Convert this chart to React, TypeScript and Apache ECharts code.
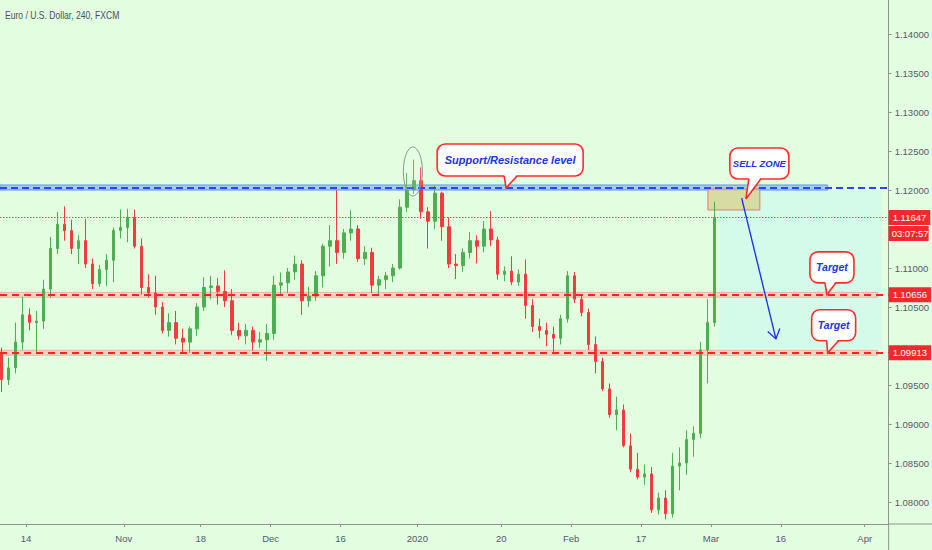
import { useEffect, useRef } from 'react';
import * as echarts from 'echarts';

// daily candles, EUR/USD (FXCM)
const dates = [
  '2019-10-08', '2019-10-09', '2019-10-10', '2019-10-11', '2019-10-14', '2019-10-15', '2019-10-16', '2019-10-17', '2019-10-18',
  '2019-10-21', '2019-10-22', '2019-10-23', '2019-10-24', '2019-10-25', '2019-10-28', '2019-10-29', '2019-10-30', '2019-10-31',
  '2019-11-01', '2019-11-04', '2019-11-05', '2019-11-06', '2019-11-07', '2019-11-08', '2019-11-11', '2019-11-12', '2019-11-13',
  '2019-11-14', '2019-11-15', '2019-11-18', '2019-11-19', '2019-11-20', '2019-11-21', '2019-11-22', '2019-11-25', '2019-11-26',
  '2019-11-27', '2019-11-28', '2019-11-29',
  '2019-12-02', '2019-12-03', '2019-12-04', '2019-12-05', '2019-12-06', '2019-12-09', '2019-12-10', '2019-12-11', '2019-12-12',
  '2019-12-13', '2019-12-16', '2019-12-17', '2019-12-18', '2019-12-19', '2019-12-20', '2019-12-23', '2019-12-24', '2019-12-26',
  '2019-12-27', '2019-12-30', '2019-12-31',
  '2020-01-02', '2020-01-03', '2020-01-06', '2020-01-07', '2020-01-08', '2020-01-09', '2020-01-10', '2020-01-13', '2020-01-14',
  '2020-01-15', '2020-01-16', '2020-01-17', '2020-01-20', '2020-01-21', '2020-01-22', '2020-01-23', '2020-01-24', '2020-01-27',
  '2020-01-28', '2020-01-29', '2020-01-30', '2020-01-31',
  '2020-02-03', '2020-02-04', '2020-02-05', '2020-02-06', '2020-02-07', '2020-02-10', '2020-02-11', '2020-02-12', '2020-02-13',
  '2020-02-14', '2020-02-17', '2020-02-18', '2020-02-19', '2020-02-20', '2020-02-21', '2020-02-24', '2020-02-25', '2020-02-26',
  '2020-02-27', '2020-02-28',
  '2020-03-02',
];

const openPx = [
  1.0990, 1.0957, 1.0972, 1.1005, 1.1040, 1.1030, 1.1032, 1.1073, 1.1125, 1.1156, 1.1148, 1.1125, 1.1135, 1.1105, 1.1080, 1.1098, 1.1110, 1.1148,
  1.1152, 1.1165, 1.1128, 1.1075, 1.1068, 1.1050, 1.1020, 1.1030, 1.1010, 1.1005, 1.1022, 1.1050, 1.1075, 1.1077, 1.1070, 1.1058, 1.1020, 1.1013, 1.1020, 1.1005, 1.1008,
  1.1016, 1.1078, 1.1081, 1.1095, 1.1105, 1.1058, 1.1064, 1.1090, 1.1128, 1.1135, 1.1120, 1.1145, 1.1150, 1.1112, 1.1120, 1.1078, 1.1085, 1.1090, 1.1100, 1.1178, 1.1200,
  1.1212, 1.1172, 1.1160, 1.1196, 1.1153, 1.1105, 1.1103, 1.1120, 1.1135, 1.1128, 1.1150, 1.1136, 1.1092, 1.1096, 1.1082, 1.1092, 1.1052, 1.1025, 1.1020, 1.1015, 1.1010, 1.1035,
  1.1090, 1.1060, 1.1043, 1.1002, 1.0980, 1.0945, 1.0912, 1.0918, 1.0872, 1.0842, 1.0832, 1.0836, 1.0790, 1.0805, 1.0785, 1.0846, 1.0850, 1.0880, 1.0888, 1.0995,
  1.1030,
];
const highPx = [
  1.0998, 1.0985, 1.1030, 1.1063, 1.1048, 1.1045, 1.1085, 1.1140, 1.1172, 1.1179, 1.1162, 1.1142, 1.1163, 1.1112, 1.1104, 1.1118, 1.1152, 1.1175,
  1.1176, 1.1175, 1.1138, 1.1092, 1.1090, 1.1056, 1.1042, 1.1045, 1.1022, 1.1025, 1.1055, 1.1088, 1.1090, 1.1087, 1.1097, 1.1073, 1.1030, 1.1028, 1.1025, 1.1018, 1.1028,
  1.1090, 1.1094, 1.1100, 1.1116, 1.1110, 1.1076, 1.1096, 1.1131, 1.1155, 1.1200, 1.1150, 1.1174, 1.1155, 1.1128, 1.1126, 1.1090, 1.1095, 1.1105, 1.1188, 1.1222, 1.1239,
  1.1229, 1.1178, 1.1205, 1.1198, 1.1165, 1.1118, 1.1125, 1.1146, 1.1142, 1.1160, 1.1173, 1.1140, 1.1102, 1.1115, 1.1098, 1.1111, 1.1060, 1.1035, 1.1030, 1.1025, 1.1040, 1.1096,
  1.1095, 1.1066, 1.1048, 1.1012, 1.0985, 1.0952, 1.0935, 1.0925, 1.0888, 1.0863, 1.0848, 1.0845, 1.0812, 1.0815, 1.0863, 1.0870, 1.0892, 1.0897, 1.1005, 1.1060,
  1.1185,
];
const lowPx = [
  1.0941, 1.0950, 1.0965, 1.0995, 1.1020, 1.0992, 1.1022, 1.1062, 1.1118, 1.1135, 1.1118, 1.1105, 1.1100, 1.1073, 1.1076, 1.1077, 1.1082, 1.1138,
  1.1133, 1.1125, 1.1066, 1.1062, 1.1040, 1.1016, 1.1012, 1.1002, 1.0990, 1.0991, 1.1013, 1.1045, 1.1060, 1.1053, 1.1050, 1.1014, 1.1008, 1.1002, 1.0994, 1.0998, 1.0981,
  1.1008, 1.1066, 1.1068, 1.1085, 1.1040, 1.1050, 1.1058, 1.1075, 1.1102, 1.1105, 1.1112, 1.1135, 1.1108, 1.1104, 1.1068, 1.1066, 1.1073, 1.1082, 1.1098, 1.1172, 1.1195,
  1.1163, 1.1125, 1.1150, 1.1135, 1.1100, 1.1086, 1.1095, 1.1112, 1.1106, 1.1120, 1.1128, 1.1085, 1.1083, 1.1078, 1.1077, 1.1035, 1.1018, 1.1010, 1.1000, 1.0992, 1.1002, 1.1030,
  1.1055, 1.1038, 1.0995, 1.0965, 1.0942, 1.0908, 1.0892, 1.0870, 1.0838, 1.0829, 1.0822, 1.0786, 1.0784, 1.0778, 1.0780, 1.0815, 1.0835, 1.0858, 1.0882, 1.0952,
  1.1025,
];
const closePx = [
  1.0957, 1.0972, 1.1005, 1.1040, 1.1030, 1.1032, 1.1073, 1.1125, 1.1156, 1.1148, 1.1125, 1.1135, 1.1105, 1.1080, 1.1098, 1.1110, 1.1148, 1.1152,
  1.1165, 1.1128, 1.1075, 1.1068, 1.1050, 1.1020, 1.1030, 1.1010, 1.1005, 1.1022, 1.1050, 1.1075, 1.1077, 1.1070, 1.1058, 1.1020, 1.1013, 1.1020, 1.1005, 1.1008, 1.1016,
  1.1078, 1.1081, 1.1095, 1.1105, 1.1058, 1.1064, 1.1090, 1.1128, 1.1135, 1.1120, 1.1145, 1.1150, 1.1112, 1.1120, 1.1078, 1.1085, 1.1090, 1.1100, 1.1178, 1.1200, 1.1212,
  1.1172, 1.1160, 1.1196, 1.1153, 1.1105, 1.1103, 1.1120, 1.1135, 1.1128, 1.1150, 1.1136, 1.1092, 1.1096, 1.1082, 1.1092, 1.1052, 1.1025, 1.1020, 1.1015, 1.1010, 1.1035, 1.1090,
  1.1060, 1.1043, 1.1002, 1.0980, 1.0945, 1.0912, 1.0918, 1.0872, 1.0842, 1.0832, 1.0836, 1.0790, 1.0805, 1.0785, 1.0846, 1.0850, 1.0880, 1.0888, 1.0995, 1.1030,
  1.1165,
];

// trading-day index of the time-scale labels (0 = Oct 14)
const tickDays = [0, 14, 25, 35, 45, 56, 68, 78, 88, 98, 108, 120];
const tickLabels = ['14', 'Nov', '18', 'Dec', '16', '2020', '20', 'Feb', '17', 'Mar', '16', 'Apr'];
const priceTicks = [1.08, 1.085, 1.09, 1.095, 1.1, 1.105, 1.11, 1.115, 1.12, 1.125, 1.13, 1.135, 1.14];
// labels hidden behind the price tags are left out
const priceLabels = [1.08, 1.085, 1.09, 1.095, 1.105, 1.11, 1.12, 1.125, 1.13, 1.135, 1.14];

// drawn levels and zones
const firstDay = -4;
const srLevel = 1.12026;
const srBand = [1.12, 1.12064];
const target1 = 1.10656;
const target2 = 1.09913;
const lastPrice = 1.11647;
const barTimer = '03:07:57';
const srEnd = 114.7;
const targetEnd = 121.86;
const sellZone = [97.57, 105.0, 1.11744, 1.12013];
const projZone = [99.14, 122.4, 1.0997, 1.12];
const arrowFrom = [102.4, 1.11897];
const arrowTo = [107.3, 1.10091];
const topMark = [55.36, 1.12237];

const callouts = [
  { text: 'Support/Resistance level', at: [68.7, srLevel], box: [-69, -44, 146, 32], base: [-2, 11], size: 11 },
  { text: 'SELL ZONE', at: [103.0, 1.11885], box: [-16, -51, 59, 31], base: [3, 15], size: 9.5 },
  { text: 'Target', at: [114.6, target1], box: [-17, -43, 44, 31], base: [-2, 9], size: 10.5 },
  { text: 'Target', at: [114.7, target2], box: [-16, -43, 44, 31], base: [-1, 11], size: 10.5 },
];

const xMin = -3.714;
const xMax = 123.43;
const yMin = 1.07718;
const yMax = 1.14436;

const sans = "'Liberation Sans', Arial, sans-serif";
const axisGrey = '#8e968e';
const textGrey = '#565a66';
const red = '#f5282d';

const priceTag = (text: string) => ({
  show: true,
  position: 'end',
  distance: 0,
  formatter: text,
  color: '#fff',
  backgroundColor: red,
  padding: [3, 4, 2, 4],
  fontSize: 9.5,
  fontFamily: sans,
});

const App = () => {
  const chartRef = useRef<HTMLDivElement>(null);

  useEffect(() => {
    if (!chartRef.current) return;
    const chart = echarts.init(chartRef.current, undefined, { renderer: 'svg' });

    const candles = openPx.map((o, i) => [firstDay + i + 0.5, o, closePx[i], lowPx[i], highPx[i]]);
    const tb = 0.00032;
    const targetBand = { color: 'rgba(240,200,180,0.75)', borderColor: 'rgba(240,120,120,0.45)', borderWidth: 1 };

    const option = {
      animation: false,
      backgroundColor: '#e2fde0',
      grid: { left: 0, right: 42, top: 0, bottom: 26 },
      xAxis: {
        type: 'value',
        min: xMin,
        max: xMax,
        axisLine: { onZero: false, lineStyle: { color: axisGrey } },
        axisTick: { show: true, customValues: tickDays, length: 3, lineStyle: { color: axisGrey } },
        axisLabel: {
          customValues: tickDays,
          formatter: (v: number) => tickLabels[tickDays.indexOf(v)] ?? '',
          color: textGrey,
          fontSize: 9.5,
          margin: 9,
          fontFamily: sans,
        },
        splitLine: { show: false },
      },
      yAxis: {
        type: 'value',
        position: 'right',
        min: yMin,
        max: yMax,
        axisLine: { show: true, onZero: false, lineStyle: { color: axisGrey } },
        axisTick: { show: true, customValues: priceTicks, length: 3, lineStyle: { color: axisGrey } },
        axisLabel: {
          customValues: priceLabels,
          formatter: (v: number) => v.toFixed(5),
          color: textGrey,
          fontSize: 9.5,
          margin: 6,
          fontFamily: sans,
        },
        splitLine: { show: false },
      },
      series: [
        {
          name: 'levels',
          type: 'line',
          data: [],
          markArea: {
            silent: true,
            data: [
              [
                { xAxis: projZone[0], yAxis: projZone[2], itemStyle: { color: '#d4fbea' } },
                { xAxis: projZone[1], yAxis: projZone[3] },
              ],
              [
                { xAxis: xMin, yAxis: srBand[0], itemStyle: { color: 'rgba(125,175,245,0.6)', borderColor: '#5d92f2', borderWidth: 1 } },
                { xAxis: srEnd, yAxis: srBand[1] },
              ],
              [
                { xAxis: xMin, yAxis: target1 - tb, itemStyle: targetBand },
                { xAxis: targetEnd, yAxis: target1 + tb },
              ],
              [
                { xAxis: xMin, yAxis: target2 - tb, itemStyle: targetBand },
                { xAxis: targetEnd, yAxis: target2 + tb },
              ],
            ],
          },
          markLine: {
            silent: true,
            precision: 5,
            symbol: ['none', 'none'],
            data: [
              { yAxis: srLevel, lineStyle: { color: '#2845ff', width: 2, type: [7, 4] }, label: { show: false } },
              { yAxis: target1, lineStyle: { color: '#ff2222', width: 2, type: [7, 5] }, label: priceTag('1.10656') },
              { yAxis: target2, lineStyle: { color: '#ff2222', width: 2, type: [7, 5] }, label: priceTag('1.09913') },
              { yAxis: lastPrice, lineStyle: { color: '#f04848', width: 1, type: [1.5, 1.5] }, label: priceTag('1.11647') },
            ],
          },
        },
        {
          name: 'EURUSD',
          type: 'candlestick',
          data: candles,
          barWidth: 3,
          itemStyle: {
            color: '#4caf50',
            color0: '#f23c3c',
            borderColor: '#4caf50',
            borderColor0: '#f23c3c',
            borderWidth: 1,
          },
        },
        {
          name: 'sell',
          type: 'line',
          data: [],
          markArea: {
            silent: true,
            data: [
              [
                { xAxis: sellZone[0], yAxis: sellZone[2], itemStyle: { color: 'rgba(214,214,150,0.85)', borderColor: '#e37c6c', borderWidth: 1 } },
                { xAxis: sellZone[1], yAxis: sellZone[3] },
              ],
            ],
          },
        },
      ],
    };

    chart.setOption(option);

    const px = (p: number[]) => chart.convertToPixel({ gridIndex: 0 }, p) as number[];
    const elements: any[] = [];

    // chart title, squeezed like the screenshot's narrow font
    elements.push({
      type: 'text',
      z: 100,
      x: 5,
      y: 15,
      scaleX: 0.78,
      style: { text: 'Euro / U.S. Dollar, 240, FXCM', fill: '#4b4f5c', fontSize: 11, fontFamily: sans, verticalAlign: 'middle' },
    });

    // top ellipse
    const [ex, ey] = px(topMark);
    elements.push({
      type: 'ellipse',
      z: 100,
      shape: { cx: ex, cy: ey, rx: 9.5, ry: 24.5 },
      style: { fill: 'rgba(255,255,255,0.12)', stroke: '#8d948d', lineWidth: 1 },
    });

    // arrow
    const [ax1, ay1] = px(arrowFrom);
    const [ax2, ay2] = px(arrowTo);
    const ang = Math.atan2(ay2 - ay1, ax2 - ax1);
    const arm = (d: number) => [ax2 - 11 * Math.cos(ang + d), ay2 - 11 * Math.sin(ang + d)];
    elements.push(
      { type: 'line', z: 100, shape: { x1: ax1, y1: ay1, x2: ax2, y2: ay2 }, style: { stroke: '#1f35e8', lineWidth: 1.4 } },
      { type: 'polyline', z: 100, shape: { points: [arm(0.6), [ax2, ay2], arm(-0.6)] }, style: { stroke: '#1f35e8', lineWidth: 1.4, fill: 'none' } },
    );

    // callouts
    callouts.forEach((c) => {
      const [tx, ty] = px(c.at);
      const [bx, by, bw, bh] = c.box;
      const left = tx + bx;
      const top = ty + by;
      const bottom = top + bh;
      elements.push(
        { type: 'rect', z: 110, shape: { x: left, y: top, width: bw, height: bh, r: 8 }, style: { fill: '#fdfffe', stroke: '#ff2b2b', lineWidth: 1.6 } },
        { type: 'polygon', z: 111, shape: { points: [[tx + c.base[0], bottom - 1.5], [tx, ty], [tx + c.base[1], bottom - 1.5]] }, style: { fill: '#fdfffe' } },
        { type: 'polyline', z: 112, shape: { points: [[tx + c.base[0], bottom], [tx, ty], [tx + c.base[1], bottom]] }, style: { stroke: '#ff2b2b', lineWidth: 1.6, fill: 'none' } },
        {
          type: 'text',
          z: 113,
          x: left + bw / 2,
          y: top + bh / 2,
          style: {
            text: c.text,
            fill: '#2233e0',
            fontSize: c.size,
            fontStyle: 'italic',
            fontWeight: 'bold',
            fontFamily: sans,
            align: 'center',
            verticalAlign: 'middle',
          },
        },
      );
    });

    // bar countdown under the last-price tag
    const [gx, gy] = px([xMax, lastPrice]);
    elements.push(
      { type: 'rect', z: 120, shape: { x: gx, y: gy + 8.5, width: 40, height: 15 }, style: { fill: red } },
      {
        type: 'text',
        z: 121,
        x: gx + 3,
        y: gy + 16,
        style: { text: barTimer, fill: '#fff', fontSize: 9.5, fontFamily: sans, verticalAlign: 'middle' },
      },
    );

    // axis lines running on past the corner
    const [cx, cy] = px([xMax, yMin]);
    elements.push(
      { type: 'line', z: 90, shape: { x1: cx, y1: cy, x2: cx, y2: 550 }, style: { stroke: axisGrey, lineWidth: 1 } },
      { type: 'line', z: 90, shape: { x1: cx, y1: cy, x2: 932, y2: cy }, style: { stroke: axisGrey, lineWidth: 1 } },
    );

    chart.setOption({ graphic: { elements } });

    return () => {
      chart.dispose();
    };
  }, []);

  return (
    <div
      ref={chartRef}
      style={{ position: 'fixed', left: 0, top: 0, width: 932, height: 550 }}
      data-days={dates.length}
    />
  );
};

export default App;
